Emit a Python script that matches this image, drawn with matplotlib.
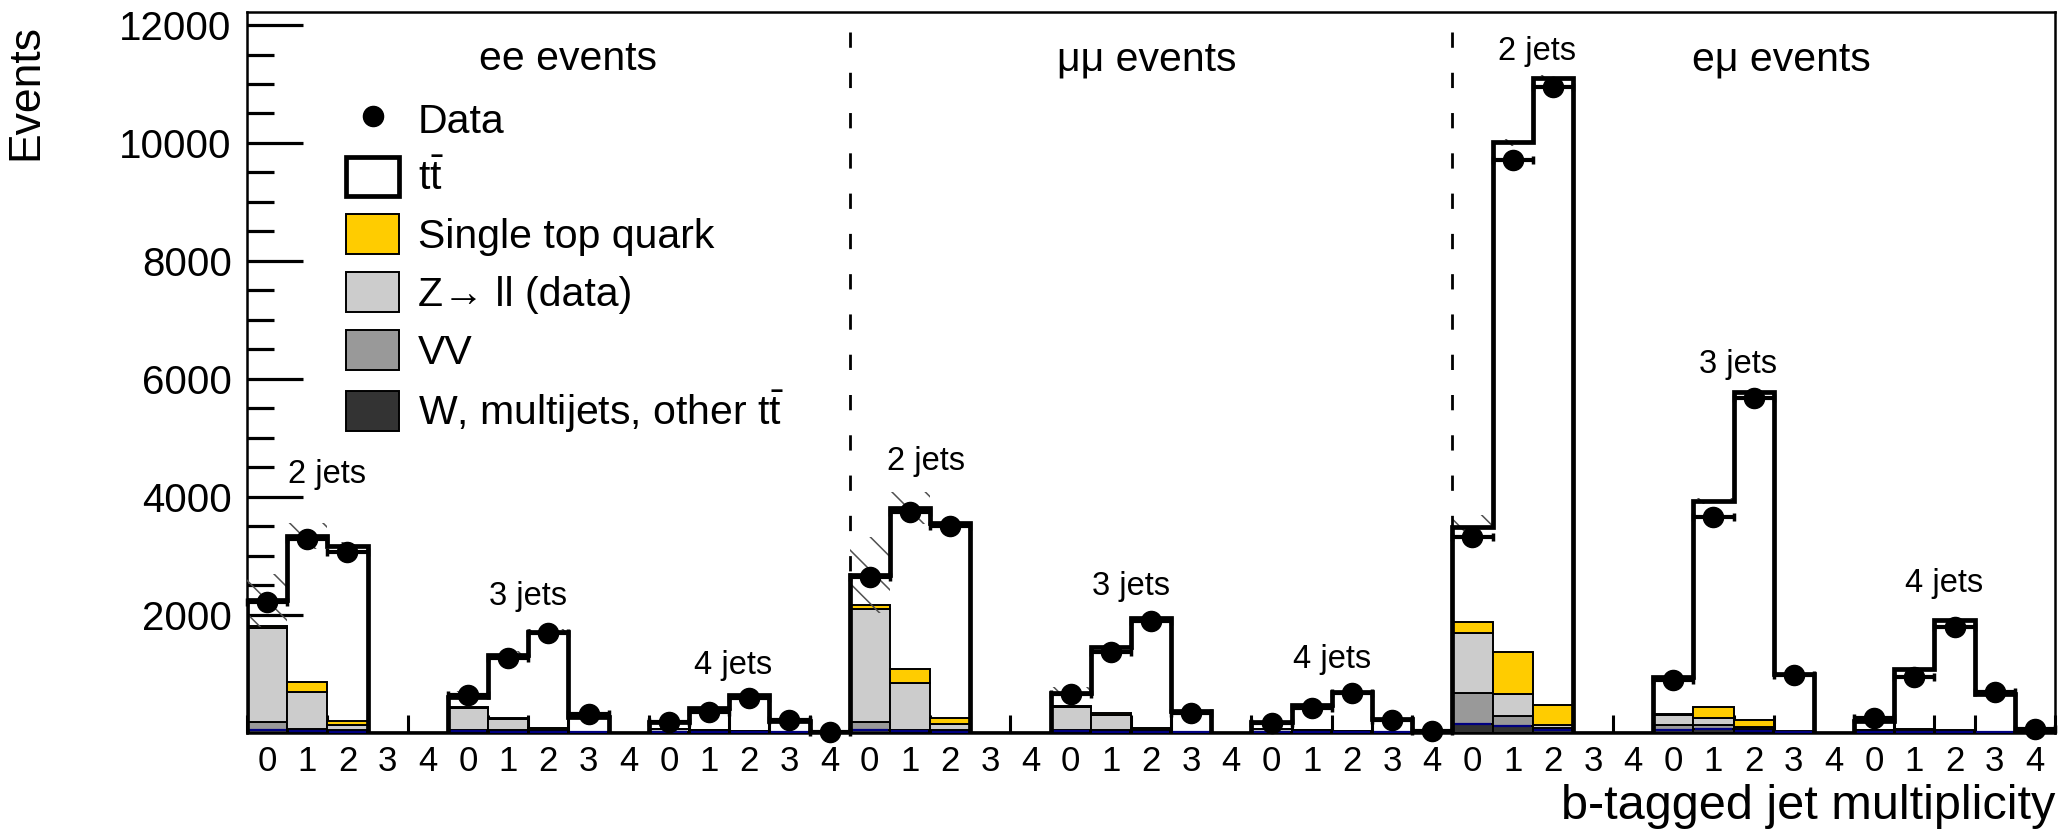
import numpy as np
import matplotlib
matplotlib.use("Agg")
import matplotlib.pyplot as plt
from matplotlib.patches import Patch
from matplotlib.lines import Line2D

plt.rcParams['font.family'] = ['Liberation Sans', 'DejaVu Sans']
plt.rcParams['mathtext.fontset'] = 'custom'
plt.rcParams['mathtext.rm'] = 'Liberation Sans'
plt.rcParams['mathtext.it'] = 'Liberation Sans:italic'
plt.rcParams['lines.scale_dashes'] = False
plt.rcParams['hatch.linewidth'] = 1.1

# ---- bins: channel x jet multiplicity x b-tag multiplicity (0..4) ----
channels = ['ee events', 'μμ events', 'eμ events']
jet_labels = ['2 jets', '3 jets', '4 jets']
btag_labels = ['0', '1', '2', '3', '4']

# background components, rows: ee 2j/3j/4j, μμ 2j/3j/4j, eμ 2j/3j/4j
wjets = [[50, 30, 15, 0, 0], [20, 15, 10, 3, 0], [10, 5, 5, 2, 0],
         [45, 25, 15, 0, 0], [20, 15, 10, 3, 0], [10, 5, 5, 2, 0],
         [140, 110, 40, 0, 0], [50, 55, 30, 5, 0], [15, 10, 8, 3, 0]]
diboson = [[130, 30, 25, 0, 0], [20, 20, 10, 2, 0], [5, 5, 3, 1, 0],
           [140, 25, 25, 0, 0], [30, 25, 10, 2, 0], [5, 5, 3, 1, 0],
           [535, 175, 40, 0, 0], [70, 70, 30, 5, 0], [10, 8, 5, 2, 0]]
zll = [[1590, 620, 90, 0, 0], [370, 195, 30, 3, 0], [40, 25, 10, 3, 0],
       [1910, 795, 100, 0, 0], [380, 260, 30, 3, 0], [40, 25, 10, 3, 0],
       [1018, 368, 45, 0, 0], [180, 125, 30, 5, 0], [15, 10, 5, 2, 0]]
single_top = [[40, 180, 70, 0, 0], [15, 20, 20, 2, 0], [5, 8, 8, 2, 0],
              [60, 227, 100, 0, 0], [15, 25, 20, 2, 0], [5, 8, 8, 2, 0],
              [176, 717, 340, 0, 0], [20, 177, 120, 10, 0], [10, 25, 30, 8, 0]]
ttbar = [[430, 2473, 2969, 0, 0], [182, 1064, 1640, 258, 0], [124, 367, 610, 187, 15],
         [516, 2730, 3319, 0, 0], [220, 1130, 1867, 355, 0], [112, 423, 666, 221, 15],
         [1611, 8645, 10641, 0, 0], [616, 3505, 5571, 967, 0], [150, 1019, 1860, 630, 30]]
# systematic uncertainty on the total prediction
syst = [[450, 220, 60, 0, 0], [90, 60, 40, 10, 0], [20, 20, 20, 10, 2],
        [650, 270, 80, 0, 0], [100, 60, 40, 10, 0], [20, 20, 20, 10, 2],
        [210, 60, 40, 0, 0], [30, 50, 40, 20, 0], [10, 30, 30, 10, 2]]
nan = np.nan
data = [[2218, 3277, 3067, nan, nan], [636, 1258, 1682, 308, nan], [172, 353, 580, 205, 15],
        [2643, 3745, 3508, nan, nan], [660, 1371, 1897, 336, nan], [165, 410, 665, 212, 20],
        [3311, 9710, 10953, nan, nan], [890, 3660, 5668, 975, nan], [240, 940, 1795, 692, 60]]

# jet-multiplicity annotations (x in bin units, y in events)
jet_label_x = [2.0, 7.0, 12.1, 16.9, 22.0, 27.0, 32.1, 37.1, 42.25]
jet_label_y = [4370, 2300, 1140, 4590, 2470, 1230, 11550, 6240, 2530]
channel_label_x = [8.0, 22.4, 38.2]
channel_label_y = 11420

# ---- derived arrays ----
w = np.ravel(wjets).astype(float)
vv = np.ravel(diboson).astype(float)
z = np.ravel(zll).astype(float)
st = np.ravel(single_top).astype(float)
tt = np.ravel(ttbar).astype(float)
err = np.ravel(syst).astype(float)
dat = np.ravel(data).astype(float)
nbins = w.size
edges = np.arange(nbins + 1)
centers = edges[:-1] + 0.5
total = w + vv + z + st + tt

fig = plt.figure(figsize=(20.62, 8.34), dpi=100)
ax = fig.add_axes([0.1198, 0.1217, 0.8768, 0.8636])

# stacked backgrounds
edge_kw = dict(width=1.0, edgecolor='black', linewidth=1.4, zorder=2)
ax.bar(centers, w, color='#333333', **edge_kw)
ax.bar(centers, vv, bottom=w, color='#999999', **edge_kw)
ax.bar(centers, z, bottom=w + vv, color='#cccccc', **edge_kw)
ax.bar(centers, st, bottom=w + vv + z, color='#ffcc00', **edge_kw)
has_w = w > 0
ax.hlines(w[has_w], edges[:-1][has_w] + 0.04, edges[1:][has_w] - 0.04,
          color='#000080', linewidth=1.6, zorder=3)

# hatched uncertainty band on the total prediction
ax.bar(centers, 2 * err, bottom=total - err, width=1.0, color='none',
       edgecolor='#505050', linewidth=0, hatch='\\', zorder=3.5)

# total prediction (ttbar on top of the stack)
ax.stairs(total, edges, baseline=0, color='black', linewidth=3.4, zorder=4)

# data
ax.errorbar(centers, dat, xerr=0.5, yerr=np.sqrt(np.nan_to_num(dat)), fmt='o',
            color='black', ms=14.5, elinewidth=3, capsize=3, capthick=2.5,
            clip_on=False, zorder=6)

ymax = 1.1 * total.max()
ax.set_xlim(0, nbins)
ax.set_ylim(0, ymax)

# channel separators
for xs in (15, 30):
    ax.plot([xs, xs], [11880, 0], color='black', linewidth=2.0,
            dashes=(11, 18), zorder=5)

# text annotations
for x, y, s in zip(jet_label_x, jet_label_y, jet_labels * 3):
    ax.text(x, y, s, ha='center', va='center', fontsize=23.5, zorder=7)
for x, s in zip(channel_label_x, channels):
    ax.text(x, channel_label_y, s, ha='center', va='center', fontsize=29.5, zorder=7)

# axes styling
for sp in ax.spines.values():
    sp.set_linewidth(1.8)
ax.set_yticks(np.arange(2000, 12001, 2000))
ax.set_yticks(np.arange(500, 12001, 500), minor=True)
ax.tick_params(axis='y', which='major', direction='in', length=40, width=2.3,
               labelsize=29, pad=11)
ax.tick_params(axis='y', which='minor', direction='in', length=19.5, width=2.3)
ax.set_xticks(edges)
ax.set_xticklabels([])
ax.set_xticks(centers, minor=True)
ax.set_xticklabels(btag_labels * 9, minor=True)
ax.tick_params(axis='x', which='major', direction='in', length=13, width=2.2)
ax.tick_params(axis='x', which='minor', length=0, labelsize=25, pad=9)

ax.set_xlabel('b-tagged jet multiplicity', fontsize=35, loc='right')
ax.xaxis.set_label_coords(1.0, -0.072)
ax.set_ylabel('Events', fontsize=32, loc='top')
ax.yaxis.set_label_coords(-0.111, 0.984)

# legend
handles = [
    Line2D([], [], marker='o', linestyle='none', color='black', markersize=14.5),
    Patch(facecolor='white', edgecolor='black', linewidth=3.4),
    Patch(facecolor='#ffcc00', edgecolor='black', linewidth=1.4),
    Patch(facecolor='#cccccc', edgecolor='black', linewidth=1.4),
    Patch(facecolor='#999999', edgecolor='black', linewidth=1.4),
    Patch(facecolor='#333333', edgecolor='black', linewidth=1.4),
]
labels = ['Data', r'$\mathrm{t\bar{t}}$', 'Single top quark', 'Z\u2192 ll (data)',
          'VV', r'W, multijets, other $\mathrm{t\bar{t}}$']
ax.legend(handles, labels, loc='upper left', bbox_to_anchor=(0.0548, 0.880),
          frameon=False, fontsize=29.5, handlelength=1.3, handleheight=1.12,
          labelspacing=0.39, handletextpad=0.45, borderpad=0, borderaxespad=0)

fig.savefig('out.png', dpi=100)
